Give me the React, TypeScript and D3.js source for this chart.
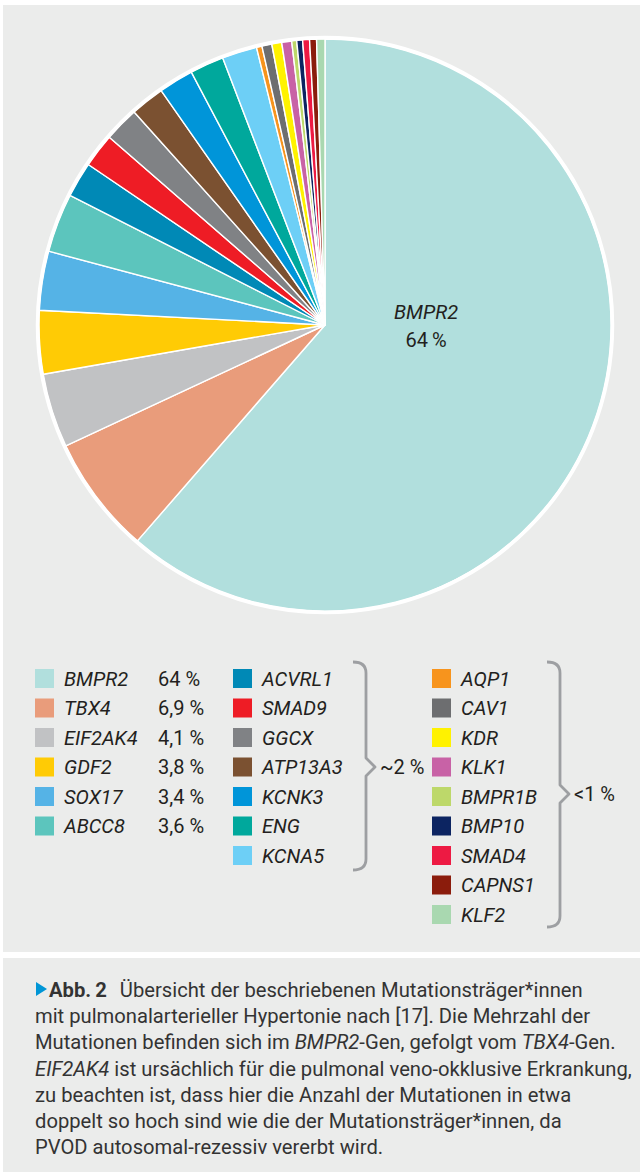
import React from "react";
import * as d3 from "d3";

// ---- data ----
const genes = [
  "BMPR2", "TBX4", "EIF2AK4", "GDF2", "SOX17", "ABCC8",
  "ACVRL1", "SMAD9", "GGCX", "ATP13A3", "KCNK3", "ENG", "KCNA5",
  "AQP1", "CAV1", "KDR", "KLK1", "BMPR1B", "BMP10", "SMAD4", "CAPNS1", "KLF2",
];
// slice shares (percent of the full circle)
const sliceShares = [
  61.4, 6.67, 4.19, 3.58, 3.33, 3.33,
  2.0, 1.92, 1.97, 1.92, 1.97, 1.92, 1.97,
  0.31, 0.56, 0.56, 0.56, 0.28, 0.33, 0.39, 0.39, 0.47,
];
const geneColors = [
  "#b1dfdd", "#e99c7b", "#c1c2c4", "#ffcb05", "#55b3e6", "#5cc5bd",
  "#0089b6", "#ee1c25", "#808285", "#7b5131", "#0095d9", "#00a89c", "#6dcff6",
  "#f7941d", "#6d6e70", "#fff200", "#c862a6", "#bdd86a", "#0c2461", "#ed1a43", "#8b1c0c", "#a9d8b0",
];
const mainPercentLabels = ["64 %", "6,9 %", "4,1 %", "3,8 %", "3,4 %", "3,6 %"];
const groupLabels = ["~2 %", "<1 %"];
const pieLabelGene = "BMPR2";
const pieLabelValue = "64\u2009%";
const captionLines: { t: string; i?: boolean; b?: boolean; dx?: number }[][] = [
  [{ t: "Abb.\u20092", b: true }, { t: "Übersicht der beschriebenen Mutationsträger*innen", dx: 13 }],
  [{ t: "mit pulmonalarterieller Hypertonie nach [17]. Die Mehrzahl der" }],
  [{ t: "Mutationen befinden sich im " }, { t: "BMPR2", i: true }, { t: "-Gen, gefolgt vom " }, { t: "TBX4", i: true }, { t: "-Gen." }],
  [{ t: "EIF2AK4", i: true }, { t: " ist ursächlich für die pulmonal veno-okklusive Erkrankung," }],
  [{ t: "zu beachten ist, dass hier die Anzahl der Mutationen in etwa" }],
  [{ t: "doppelt so hoch sind wie die der Mutationsträger*innen, da" }],
  [{ t: "PVOD autosomal-rezessiv vererbt wird." }],
];

const FONT = "'Liberation Sans Narrow', Roboto, 'Noto Sans', sans-serif";
const TEXT = "#231f20";

export default function App() {
  const W = 640, H = 1174;
  const cx = 325, cy = 325, r = 286;
  const pie = d3.pie<number>().sort(null).value((d) => d).startAngle(0).endAngle(2 * Math.PI);
  const arcs = pie(sliceShares);
  const arcGen = d3.arc<d3.PieArcDatum<number>>().innerRadius(0).outerRadius(r);

  const rowY = d3.scaleLinear().domain([0, 1]).range([669, 698.5]);
  const sw = 19;
  const cols = [
    { start: 0, end: 6, x: 35 },
    { start: 6, end: 13, x: 233 },
    { start: 13, end: 22, x: 432 },
  ];

  const brace = (x0: number, xv: number, xt: number, y0: number, y1: number, yt: number) => {
    const rr = 11, s = 9;
    return `M${x0},${y0} Q${xv},${y0} ${xv},${y0 + rr} L${xv},${yt - s} L${xt},${yt} L${xv},${yt + s} L${xv},${y1 - rr} Q${xv},${y1} ${x0},${y1}`;
  };

  return (
    <svg width={W} height={H} style={{ position: "absolute", left: 0, top: 0, background: "#fff" }}
      fontFamily={FONT}>
      <rect x={3} y={5} width={W - 3} height={947} fill="#ebeceb" />
      <rect x={3} y={958} width={W - 3} height={214} fill="#ebeceb" />

      <g transform={`translate(${cx},${cy})`}>
        {arcs.map((a, i) => (
          <path key={genes[i]} d={arcGen(a) || ""} fill={geneColors[i]} stroke="#fff" strokeWidth={1.4} strokeLinejoin="round" />
        ))}
        <circle r={r + 1.5} fill="none" stroke="#fff" strokeWidth={3.5} />
        <text x={101} y={-6} textAnchor="middle" fontSize={20} fontStyle="italic" fill={TEXT}>{pieLabelGene}</text>
        <text x={101} y={22} textAnchor="middle" fontSize={20} fill={TEXT}>{pieLabelValue}</text>
      </g>

      {cols.map((c, ci) => (
        <g key={ci}>
          {genes.slice(c.start, c.end).map((g, k) => {
            const i = c.start + k;
            const y = rowY(k);
            return (
              <g key={g}>
                <rect x={c.x} y={y} width={sw} height={sw} fill={geneColors[i]} />
                <text x={c.x + 29} y={y + sw / 2 + 7} fontSize={20} fontStyle="italic" fill={TEXT}>{g}</text>
                {ci === 0 && (
                  <text x={158} y={y + sw / 2 + 7} fontSize={20} fill={TEXT}>{mainPercentLabels[k]}</text>
                )}
              </g>
            );
          })}
        </g>
      ))}

      <path d={brace(353, 366, 375, 662, 870, 767)} fill="none" stroke="#9d9fa2" strokeWidth={2.8} strokeLinejoin="round" />
      <text x={380} y={767 + 7} fontSize={20} fill={TEXT}>{groupLabels[0]}</text>
      <path d={brace(547, 560, 569, 662, 927, 794)} fill="none" stroke="#9d9fa2" strokeWidth={2.8} strokeLinejoin="round" />
      <text x={574} y={794 + 7} fontSize={20} fill={TEXT}>{groupLabels[1]}</text>

      <path d="M36,982 L47,989 L36,996 Z" fill="#0096d6" />
      {captionLines.map((line, li) => (
        <text key={li} x={li === 0 ? 49 : 35} y={997 + li * 26.2} fontSize={20.2} fill="#333333">
          {line.map((s, si) => (
            <tspan key={si} dx={s.dx} fontStyle={s.i ? "italic" : "normal"} fontWeight={s.b ? "bold" : "normal"}>{s.t}</tspan>
          ))}
        </text>
      ))}
    </svg>
  );
}
